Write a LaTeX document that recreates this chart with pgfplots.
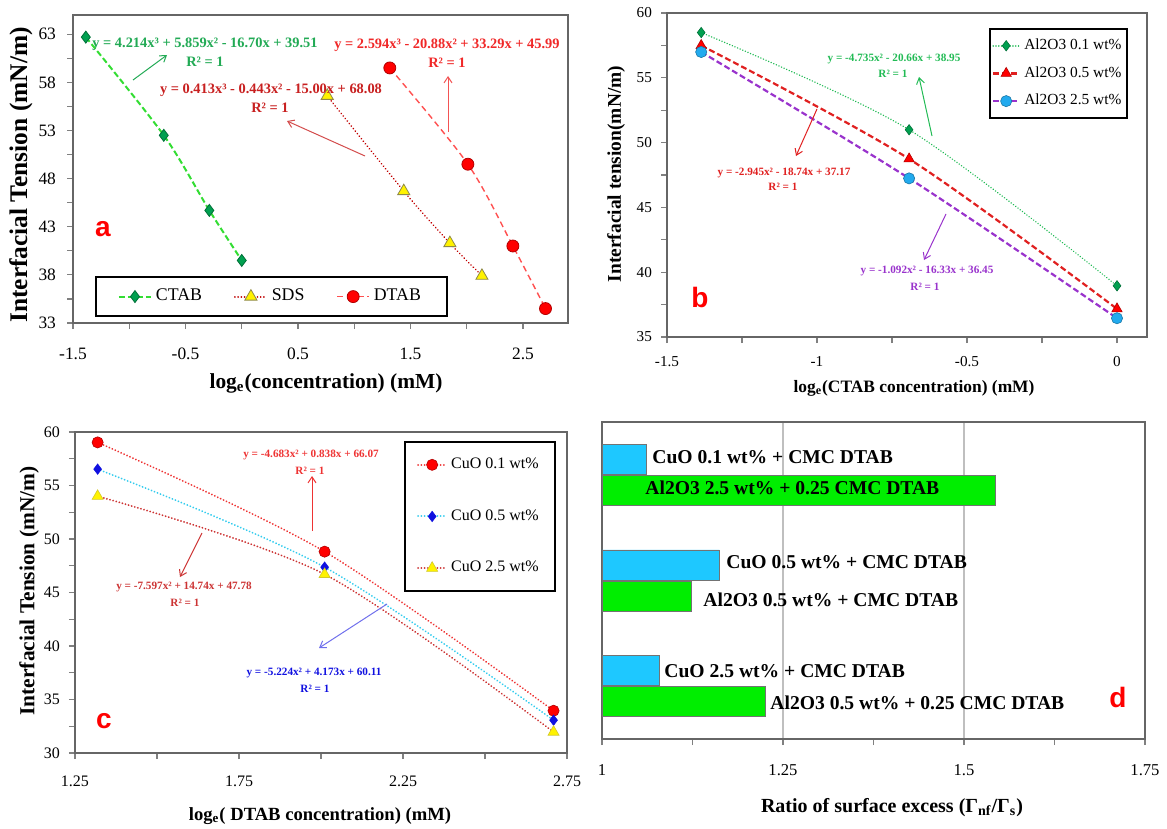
\documentclass[border=0pt]{standalone}
\usepackage{pgfplots}
\pgfplotsset{compat=1.18}
\usepackage{fontspec}
\setmainfont{Liberation Serif}
\newfontfamily\sansf{Liberation Sans}
\usetikzlibrary{arrows.meta}

\definecolor{ctabline}{HTML}{33DD33}
\definecolor{ctabmark}{HTML}{00A050}
\definecolor{sdsline}{HTML}{C00000}
\definecolor{dtabline}{HTML}{FF5050}
\definecolor{eqgreen}{HTML}{22AA55}
\definecolor{eqred}{HTML}{C82020}
\definecolor{eqred2}{HTML}{F02828}
\definecolor{bgreen}{HTML}{22BB55}
\definecolor{bred}{HTML}{E02020}
\definecolor{bpurple}{HTML}{9933CC}
\definecolor{bcyan}{HTML}{22AAEE}
\definecolor{cred}{HTML}{EE3333}
\definecolor{ccyan}{HTML}{33CCEE}
\definecolor{cdred}{HTML}{CC3333}
\definecolor{cblue}{HTML}{1010E0}
\definecolor{dcyan}{HTML}{1EC8FF}
\definecolor{dgreen}{HTML}{00EE00}

\pgfplotsset{
  panel/.style={scale only axis, anchor=south west,
    axis line style={draw=black!60, line width=0.7pt},
    tick style={draw=black!50, line width=0.6pt},
    tick align=outside, tick pos=left,
    major tick length=3pt, minor tick length=3pt,
    /pgf/number format/assume math mode=true,
    legend cell align=left},
}
\tikzset{
  eq/.style={inner sep=0pt, font=\bfseries\fontsize{7.2}{8}\selectfont},
  eqs/.style={inner sep=0pt, font=\bfseries\fontsize{5.6}{6.5}\selectfont},
  arr/.style={-{Straight Barb[length=3pt,width=4pt]}, line width=0.5pt},
  lett/.style={inner sep=0pt, text=red, font=\sansf\bfseries\fontsize{14}{16}\selectfont},
  barl/.style={inner sep=0pt, anchor=west, font=\bfseries\fontsize{9.8}{11}\selectfont},
}

\begin{document}
\begin{tikzpicture}[x=0.5pt,y=-0.5pt]
\path[use as bounding box] (0,0) rectangle (1167,829);

% ---------------- Panel a ----------------
\begin{axis}[panel, at={(36.5pt,-161.5pt)}, width=247.5pt, height=154pt,
  xmin=-1.5, xmax=2.9, ymin=33, ymax=65,
  xtick={-1.5,-1,-0.5,0,0.5,1,1.5,2,2.5},
  xticklabels={-1.5,,-0.5,,0.5,,1.5,,2.5},
  ytick={33,38,43,48,53,58,63},
  minor ytick={35.5,40.5,45.5,50.5,55.5,60.5},
  ticklabel style={font=\fontsize{8.7}{10}\selectfont},
  xticklabel style={yshift=-6pt}, yticklabel style={xshift=-2pt},
  legend columns=3,
  legend style={at={(0.0444,0.0195)}, anchor=south west, draw=black, line width=1pt,
    font=\fontsize{8.9}{10}\selectfont, inner xsep=11pt, inner ysep=4pt,
    /tikz/every even column/.append style={column sep=14pt}},
  legend image code/.code={\draw[mark repeat=2,mark phase=2] plot coordinates {(0pt,0pt)(8pt,0pt)(16pt,0pt)};},
]
\addplot[ctabline, line width=1pt, dash pattern=on 3pt off 1.5pt, smooth,
  mark=diamond*, mark size=3pt, mark options={solid, fill=ctabmark, draw=ctabmark!70!black, line width=0.4pt}]
  coordinates {(-1.386,62.7) (-0.693,52.5) (-0.288,44.7) (0,39.5)};
\addlegendentry{CTAB}
\addplot[sdsline, line width=0.9pt, line cap=round, dash pattern=on 0.01pt off 1.6pt, smooth,
  mark=triangle*, mark size=3.5pt, mark options={solid, fill=yellow, draw=yellow!50!black, line width=0.4pt}]
  coordinates {(0.76,56.6) (1.44,46.7) (1.85,41.3) (2.135,37.9)};
\addlegendentry{SDS}
\addplot[dtabline, line width=0.7pt, dash pattern=on 3pt off 2pt, smooth,
  mark=*, mark size=3pt, mark options={solid, fill=red, draw=red!70!black, line width=0.4pt}]
  coordinates {(1.316,59.5) (2.01,49.5) (2.41,41.0) (2.70,34.5)};
\addlegendentry{DTAB}
\end{axis}

% ---------------- Panel b ----------------
\begin{axis}[panel, at={(333.5pt,-168.5pt)}, width=240pt, height=162pt,
  xmin=-1.5, xmax=0.1, ymin=35, ymax=60,
  xtick={-1.5,-1.25,-1,-0.75,-0.5,-0.25,0},
  xticklabels={-1.5,,-1,,-0.5,,0},
  ytick={35,40,45,50,55,60},
  minor ytick={37.5,42.5,47.5,52.5,57.5},
  ticklabel style={font=\fontsize{7.6}{9}\selectfont},
  xticklabel style={yshift=-3pt}, yticklabel style={xshift=-1pt},
  legend style={at={(0.671,0.954)}, anchor=north west, draw=black, line width=1pt,
    font=\fontsize{7.7}{9}\selectfont, inner xsep=1pt, inner ysep=3pt, row sep=3pt},
  legend image code/.code={\draw[mark repeat=2,mark phase=2] plot coordinates {(0pt,0pt)(6.5pt,0pt)(13pt,0pt)};},
]
\addplot[bgreen, line width=0.8pt, line cap=round, dash pattern=on 0.01pt off 1.4pt, smooth,
  mark=diamond*, mark size=2.6pt, mark options={solid, fill=ctabmark, draw=ctabmark!70!black, line width=0.3pt}]
  coordinates {(-1.386,58.49) (-0.693,50.99) (0,38.95)};
\addlegendentry{Al2O3 0.1 wt\%}
\addplot[bred, line width=1.1pt, dash pattern=on 3pt off 1.5pt, smooth,
  mark=triangle*, mark size=3pt, mark options={solid, fill=red, draw=red!70!black, line width=0.3pt}]
  coordinates {(-1.386,57.49) (-0.693,48.74) (0,37.17)};
\addlegendentry{Al2O3 0.5 wt\%}
\addplot[bpurple, line width=1.1pt, dash pattern=on 3pt off 1.5pt, smooth,
  mark=*, mark size=2.8pt, mark options={solid, fill=bcyan, draw=bcyan!70!black, line width=0.3pt}]
  coordinates {(-1.386,56.99) (-0.693,47.24) (0,36.45)};
\addlegendentry{Al2O3 2.5 wt\%}
\end{axis}

% ---------------- Panel c ----------------
\begin{axis}[panel, at={(37.5pt,-376.5pt)}, width=246pt, height=160.5pt,
  xmin=1.25, xmax=2.75, ymin=30, ymax=60,
  xtick={1.25,1.5,1.75,2,2.25,2.5,2.75},
  xticklabels={1.25,,1.75,,2.25,,2.75},
  ytick={30,35,40,45,50,55,60},
  minor ytick={32.5,37.5,42.5,47.5,52.5,57.5},
  ticklabel style={font=\fontsize{8}{9}\selectfont},
  xticklabel style={yshift=-5pt}, yticklabel style={xshift=-1pt},
  legend style={at={(0.669,0.972)}, anchor=north west, draw=black, line width=1pt,
    font=\fontsize{8}{9}\selectfont, inner xsep=6pt, inner ysep=6pt, row sep=15pt},
  legend image code/.code={\draw[mark repeat=2,mark phase=2] plot coordinates {(0pt,0pt)(7pt,0pt)(14pt,0pt)};},
]
\addplot[cred, line width=1pt, line cap=round, dash pattern=on 0.01pt off 1.6pt, smooth,
  mark=*, mark size=2.8pt, mark options={solid, fill=red, draw=red!70!black, line width=0.3pt}]
  coordinates {(1.319,59.03) (2.011,48.82) (2.709,33.95)};
\addlegendentry{CuO 0.1 wt\%}
\addplot[ccyan, line width=1pt, line cap=round, dash pattern=on 0.01pt off 1.6pt, smooth,
  mark=diamond*, mark size=2.6pt, mark options={solid, fill=cblue, draw=cblue, line width=0.3pt}]
  coordinates {(1.319,56.53) (2.011,47.37) (2.709,33.07)};
\addlegendentry{CuO 0.5 wt\%}
\addplot[cdred, line width=1pt, line cap=round, dash pattern=on 0.01pt off 1.6pt, smooth,
  mark=triangle*, mark size=3.2pt, mark options={solid, fill=yellow, draw=yellow!80!black, line width=0.3pt}]
  coordinates {(1.319,54.0) (2.011,46.7) (2.709,31.96)};
\addlegendentry{CuO 2.5 wt\%}
\end{axis}

% ---------------- Panel d ----------------
\begin{axis}[panel, at={(301pt,-369.5pt)}, width=271.5pt, height=158.5pt,
  xmin=1, xmax=1.75, ymin=0.5, ymax=3.5,
  xtick={1,1.25,1.5,1.75}, xticklabels={1,1.25,1.5,1.75},
  minor xtick={1.125,1.375,1.625},
  xmajorgrids, major grid style={draw=black!25, line width=0.6pt},
  ytick=\empty,
  ticklabel style={font=\fontsize{8.3}{9}\selectfont},
  xticklabel style={yshift=-6pt},
]
\addplot[xbar, bar width=15pt, bar shift=7.8pt, fill=dcyan, draw=black!55, line width=0.4pt]
  coordinates {(1.061,3) (1.162,2) (1.079,1)};
\addplot[xbar, bar width=15pt, bar shift=-7.8pt, fill=dgreen, draw=black!55, line width=0.4pt]
  coordinates {(1.543,3) (1.123,2) (1.225,1)};
\end{axis}

% ---------------- Axis titles ----------------
\node[rotate=90, font=\bfseries\fontsize{12.7}{14}\selectfont] at (21,175) {Interfacial Tension (mN/m)};
\node[font=\bfseries\fontsize{10.7}{12}\selectfont] at (326,383) {log\textsubscript{e}(concentration) (mM)};
\node[rotate=90, font=\bfseries\fontsize{9.7}{11}\selectfont] at (616,174) {Interfacial tension(mN/m)};
\node[font=\bfseries\fontsize{8.7}{10}\selectfont] at (914,388) {log\textsubscript{e}(CTAB concentration) (mM)};
\node[rotate=90, font=\bfseries\fontsize{10.7}{12}\selectfont] at (29,591) {Interfacial Tension (mN/m)};
\node[font=\bfseries\fontsize{9.3}{11}\selectfont] at (320,816) {log\textsubscript{e}( DTAB concentration) (mM)};
\node[font=\bfseries\fontsize{10}{11}\selectfont] at (892,808) {Ratio of surface excess (Γ\textsubscript{nf}/Γ\textsubscript{s})};

% ---------------- Panel letters ----------------
\node[lett] at (103,229) {a};
\node[lett] at (700,297) {b};
\node[lett] at (104,721) {c};
\node[lett] at (1118,697) {d};

% ---------------- Equations panel a ----------------
\node[eq, text=eqgreen] at (205,44) {y = 4.214x³ + 5.859x² - 16.70x + 39.51};
\node[eq, text=eqgreen] at (205,62) {R² = 1};
\draw[arr, eqgreen] (133,80) -- (167,55);
\node[eq, text=eqred] at (271,90) {y = 0.413x³ - 0.443x² - 15.00x + 68.08};
\node[eq, text=eqred] at (270,108) {R² = 1};
\draw[arr, eqred!80] (365,156) -- (287,121);
\node[eq, text=eqred2] at (447,45) {y = 2.594x³ - 20.88x² + 33.29x + 45.99};
\node[eq, text=eqred2] at (447,63) {R² = 1};
\draw[arr, eqred2!80] (448,132) -- (448,76);

% ---------------- Equations panel b ----------------
\node[eqs, text=bgreen] at (894,59) {y = -4.735x² - 20.66x + 38.95};
\node[eqs, text=bgreen] at (893,74) {R² = 1};
\draw[arr, bgreen] (932,136) -- (919,77);
\node[eqs, text=bred] at (784,173) {y = -2.945x² - 18.74x + 37.17};
\node[eqs, text=bred] at (783,187) {R² = 1};
\draw[arr, bred] (817,109) -- (796,156);
\node[eqs, text=bpurple] at (927,271) {y = -1.092x² - 16.33x + 36.45};
\node[eqs, text=bpurple] at (925,287) {R² = 1};
\draw[arr, bpurple] (946,214) -- (924,260);

% ---------------- Equations panel c ----------------
\node[eqs, text=cred] at (311,455) {y = -4.683x² + 0.838x + 66.07};
\node[eqs, text=cred] at (310,471) {R² = 1};
\draw[arr, cred] (312,531) -- (312,476);
\node[eqs, text=cdred] at (184,587) {y = -7.597x² + 14.74x + 47.78};
\node[eqs, text=cdred] at (185,603) {R² = 1};
\draw[arr, cdred] (202,533) -- (180,577);
\node[eqs, text=cblue] at (314,673) {y = -5.224x² + 4.173x + 60.11};
\node[eqs, text=cblue] at (315,689) {R² = 1};
\draw[arr, cblue!60] (387,604) -- (319,648);

% ---------------- Bar labels panel d ----------------
\node[barl] at (652,457) {CuO 0.1 wt\% + CMC DTAB};
\node[barl] at (645,488) {Al2O3 2.5 wt\% + 0.25 CMC DTAB};
\node[barl] at (726,562) {CuO 0.5 wt\% + CMC DTAB};
\node[barl] at (703,600) {Al2O3 0.5 wt\% + CMC DTAB};
\node[barl] at (664,671) {CuO 2.5 wt\% + CMC DTAB};
\node[barl] at (770,703) {Al2O3 0.5 wt\% + 0.25 CMC DTAB};
\end{tikzpicture}
\end{document}
